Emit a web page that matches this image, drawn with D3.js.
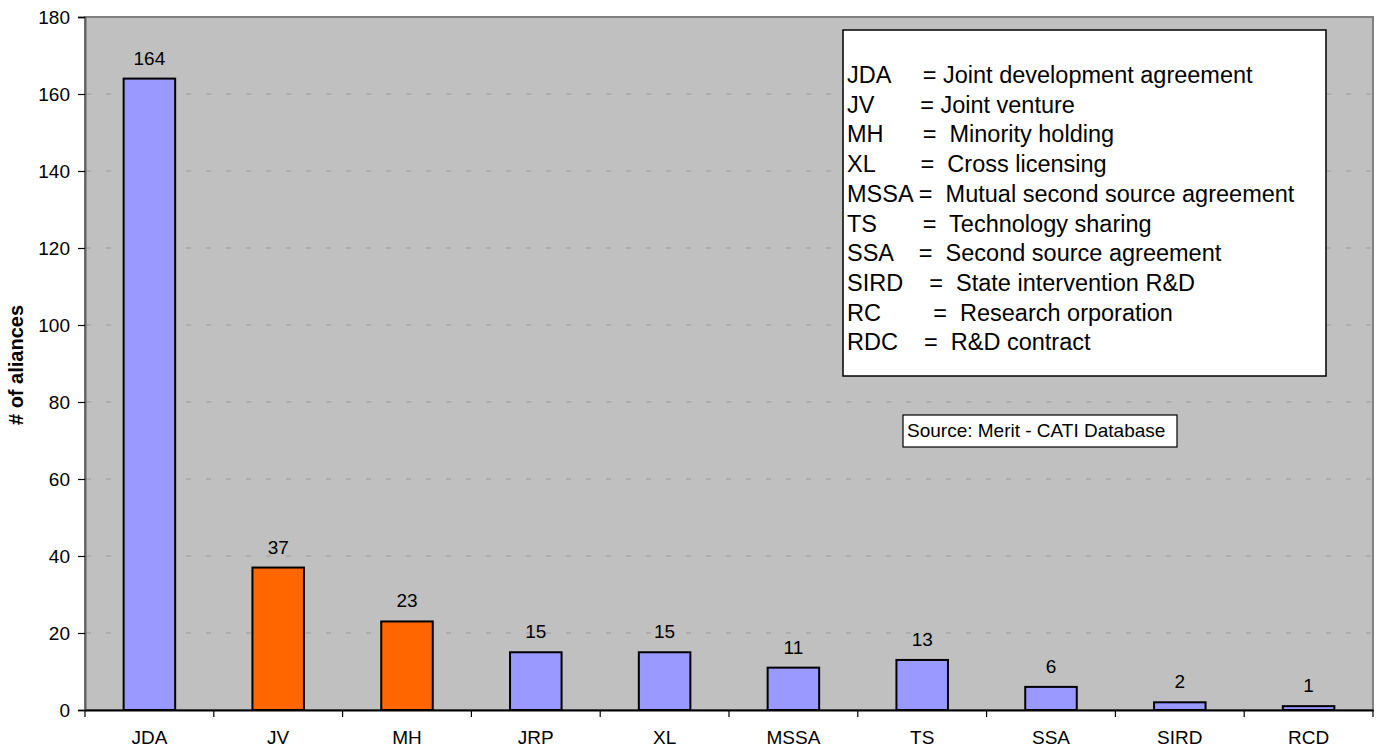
<!DOCTYPE html>
<html>
<head>
<meta charset="utf-8">
<script src="https://cdn.jsdelivr.net/npm/d3@7"></script>
<style>
  html, body { margin: 0; padding: 0; background: #fff; }
  svg text { font-family: Arial, "Liberation Sans", sans-serif; }
</style>
</head>
<body>
<svg id="chart" width="1380" height="754"></svg>
<script>
// Alliance counts by type
const categories = ["JDA", "JV", "MH", "JRP", "XL", "MSSA", "TS", "SSA", "SIRD", "RCD"];
const counts = [164, 37, 23, 15, 15, 11, 13, 6, 2, 1];
const highlighted = ["JV", "MH"];
const yTicks = [0, 20, 40, 60, 80, 100, 120, 140, 160, 180];
const legendLines = [
  "JDA     = Joint development agreement",
  "JV       = Joint venture",
  "MH      =  Minority holding",
  "XL       =  Cross licensing",
  "MSSA =  Mutual second source agreement",
  "TS       =  Technology sharing",
  "SSA    =  Second source agreement",
  "SIRD    =  State intervention R&D",
  "RC        =  Research orporation",
  "RDC    =  R&D contract"
];
const sourceNote = "Source: Merit - CATI Database";
const yTitle = "# of aliances";

const svg = d3.select("#chart");
const plot = { left: 85, right: 1373, top: 17, bottom: 710 };

const x = d3.scaleBand()
  .domain(categories)
  .range([plot.left, plot.right])
  .paddingInner(0.6)
  .paddingOuter(0.3);

const y = d3.scaleLinear()
  .domain([0, 180])
  .range([plot.bottom, plot.top]);

// plot background
svg.append("rect")
  .attr("x", plot.left).attr("y", plot.top)
  .attr("width", plot.right - plot.left)
  .attr("height", plot.bottom - plot.top)
  .attr("fill", "#C0C0C0")
  .attr("stroke", "#808080")
  .attr("stroke-width", 2);

// dashed gridlines
svg.append("g")
  .selectAll("line")
  .data(yTicks.filter(v => v > 0 && v < 180))
  .join("line")
  .attr("x1", plot.left + 1).attr("x2", plot.right - 1)
  .attr("y1", d => y(d)).attr("y2", d => y(d))
  .attr("stroke", "#9a9a9a")
  .attr("stroke-width", 1.2)
  .attr("stroke-dasharray", "5,15");

// y axis
const yAxis = svg.append("g")
  .attr("transform", `translate(${plot.left},0)`)
  .call(d3.axisLeft(y).tickValues(yTicks).tickSize(7).tickPadding(8).tickFormat(d3.format("d")));
yAxis.select(".domain").attr("stroke", "#606060").attr("stroke-width", 2);
yAxis.selectAll(".tick line").attr("stroke", "#000").attr("stroke-width", 1.2);
yAxis.selectAll("text").attr("font-size", "19px").attr("fill", "#000");

// bars
svg.append("g")
  .selectAll("rect")
  .data(categories.map((c, i) => ({ c, v: counts[i] })))
  .join("rect")
  .attr("x", d => x(d.c))
  .attr("y", d => y(d.v))
  .attr("width", x.bandwidth())
  .attr("height", d => y(0) - y(d.v))
  .attr("fill", d => highlighted.includes(d.c) ? "#FF6600" : "#9999FF")
  .attr("stroke", "#000")
  .attr("stroke-width", 2);

// value labels
svg.append("g")
  .selectAll("text")
  .data(categories.map((c, i) => ({ c, v: counts[i] })))
  .join("text")
  .attr("x", d => x(d.c) + x.bandwidth() / 2)
  .attr("y", d => y(d.v) - 14)
  .attr("text-anchor", "middle")
  .attr("font-size", "19px")
  .attr("fill", "#000")
  .text(d => d.v);

// x axis
const xAxis = svg.append("g")
  .attr("transform", `translate(0,${plot.bottom})`)
  .call(d3.axisBottom(x).tickSize(0).tickPadding(21));
xAxis.select(".domain").attr("stroke", "#000").attr("stroke-width", 2);
xAxis.selectAll("text").attr("font-size", "19px").attr("fill", "#000");

// category separator ticks
const step = x.step();
const boundaries = d3.range(categories.length + 1).map(i => plot.left + i * step);
svg.append("g")
  .selectAll("line")
  .data(boundaries)
  .join("line")
  .attr("x1", d => d).attr("x2", d => d)
  .attr("y1", plot.bottom).attr("y2", plot.bottom + 7)
  .attr("stroke", "#000")
  .attr("stroke-width", 1.2);

// y axis title
svg.append("text")
  .attr("transform", `translate(23,365) rotate(-90)`)
  .attr("text-anchor", "middle")
  .attr("font-size", "20px")
  .attr("font-weight", "bold")
  .attr("fill", "#000")
  .text(yTitle);

// abbreviation key
svg.append("rect")
  .attr("x", 843).attr("y", 30)
  .attr("width", 483).attr("height", 346)
  .attr("fill", "#fff")
  .attr("stroke", "#000")
  .attr("stroke-width", 1.5);

svg.append("g")
  .selectAll("text")
  .data(legendLines)
  .join("text")
  .attr("x", 847)
  .attr("y", (d, i) => 83 + i * 29.7)
  .attr("font-size", "23.5px")
  .attr("fill", "#000")
  .style("white-space", "pre")
  .attr("xml:space", "preserve")
  .text(d => d);

// source note
svg.append("rect")
  .attr("x", 903).attr("y", 415)
  .attr("width", 274).attr("height", 32)
  .attr("fill", "#fff")
  .attr("stroke", "#000")
  .attr("stroke-width", 1.2);

svg.append("text")
  .attr("x", 907).attr("y", 437)
  .attr("font-size", "19px")
  .attr("fill", "#000")
  .text(sourceNote);
</script>
</body>
</html>
